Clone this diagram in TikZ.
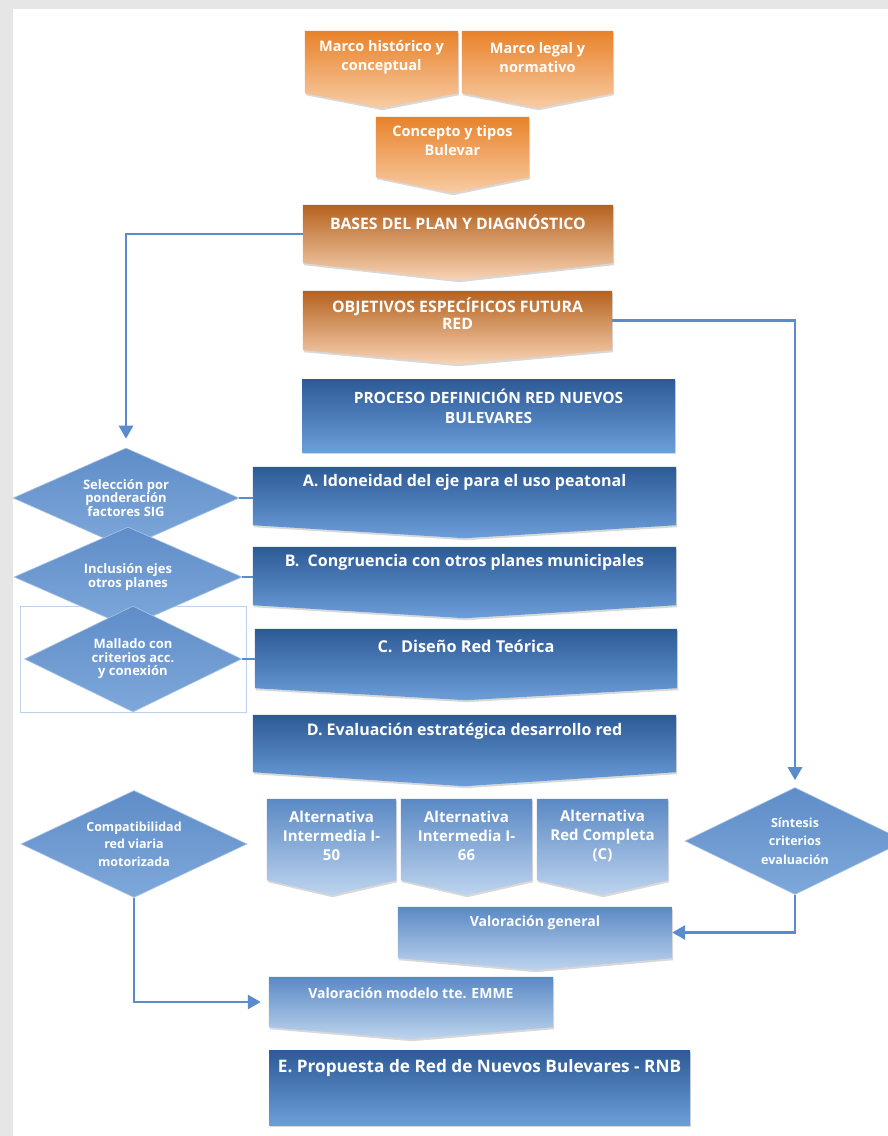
\documentclass[tikz,border=0pt]{standalone}
\usepackage{fontspec}
\setmainfont{Open Sans}
\usetikzlibrary{arrows.meta,shapes.geometric,shadows,positioning}

\definecolor{pagegray}{HTML}{E6E6E6}
\definecolor{orangetop}{HTML}{E8822A}
\definecolor{orangebot}{HTML}{F8CCA4}
\definecolor{rusttop}{HTML}{B5621F}
\definecolor{rustbot}{HTML}{F8D3B4}
\definecolor{bluetop}{HTML}{2C5A96}
\definecolor{bluebot}{HTML}{6C9ED9}
\definecolor{paletop}{HTML}{5A89C4}
\definecolor{palebot}{HTML}{BED4EE}
\definecolor{diatop}{HTML}{5F8DC8}
\definecolor{diabot}{HTML}{7EA8DA}
\definecolor{diaedge}{HTML}{A9C4E6}
\definecolor{linkblue}{HTML}{5A8CCD}
\definecolor{framecol}{HTML}{BCD2EA}

\tikzset{
  body/.style 2 args={inner sep=0pt, minimum width=#1, minimum height=#2},
  shadowed/.style={drop shadow={shadow xshift=1pt, shadow yshift=-2pt, opacity=0.25, fill=black!60}},
  orangebox/.style={top color=orangetop, bottom color=orangebot, shadowed},
  rustbox/.style={top color=rusttop, bottom color=rustbot, shadowed},
  bluebox/.style={top color=bluetop, bottom color=bluebot, shadowed},
  palebox/.style={top color=paletop, bottom color=palebot, shadowed},
  txt/.style 2 args={text=white, align=center, inner sep=0pt, font=\bfseries\fontsize{#1}{#2}\selectfont},
  decision/.style 2 args={diamond, shape aspect=2.2, top color=diatop, bottom color=diabot, draw=diaedge, line width=0.6pt, inner sep=0pt, text=white, align=center, font=\bfseries\fontsize{#1}{#2}\selectfont},
  link/.style={draw=linkblue, line width=2.8pt},
  arrowlink/.style={link, -{Triangle[width=14pt,length=13pt]}}
}

\begin{document}
\begin{tikzpicture}[x=1pt,y=-1pt]
\useasboundingbox (0,0) rectangle (888,1136);
\fill[pagegray] (0,0) rectangle (888,1136);
\fill[white] (13,9) rectangle (888,1136);

% orange chain
\node[body={153pt}{62pt}] (marcoh) at (381.5,62) {};
\shade[orangebox] (marcoh.north west) -- (marcoh.north east) -- (marcoh.south east) -- ([yshift=-15pt]marcoh.south) -- (marcoh.south west) -- cycle;
\node[txt={14.5}{19}] (marcoh-t) at ([yshift=-26.5pt]marcoh.north) {Marco histórico y\\conceptual};

\node[body={151pt}{62pt}] (marcol) at (537.5,62) {};
\shade[orangebox] (marcol.north west) -- (marcol.north east) -- (marcol.south east) -- ([yshift=-15pt]marcol.south) -- (marcol.south west) -- cycle;
\node[txt={14.5}{19}] (marcol-t) at ([yshift=-26.5pt]marcol.north) {Marco legal y\\normativo};

\node[body={153pt}{60pt}] (concepto) at (452.5,147) {};
\shade[orangebox] (concepto.north west) -- (concepto.north east) -- (concepto.south east) -- ([yshift=-16pt]concepto.south) -- (concepto.south west) -- cycle;
\node[txt={14.5}{19}] (concepto-t) at ([yshift=-24pt]concepto.north) {Concepto y tipos\\Bulevar};

\node[body={310pt}{58pt}] (bases) at (458,234) {};
\shade[rustbox] (bases.north west) -- (bases.north east) -- (bases.south east) -- ([yshift=-17pt]bases.south) -- (bases.south west) -- cycle;
\node[txt={15.8}{17}] (bases-t) at ([yshift=-17pt]bases.north) {BASES DEL PLAN Y DIAGNÓSTICO};

\node[body={309pt}{59pt}] (obj) at (457.5,320.5) {};
\shade[rustbox] (obj.north west) -- (obj.north east) -- (obj.south east) -- ([yshift=-14pt]obj.south) -- (obj.south west) -- cycle;
\node[txt={15.8}{17}] (obj-t) at ([yshift=-22.5pt]obj.north) {OBJETIVOS ESPECÍFICOS FUTURA\\RED};

% blue chain
\node[body={373pt}{73pt}, bluebox] (proceso) at (488.5,415.5) {};
\node[txt={15.5}{20}] (proceso-t) at ([yshift=-28pt]proceso.north) {PROCESO DEFINICIÓN RED NUEVOS\\BULEVARES};

\node[body={423pt}{58pt}] (boxA) at (464.5,496) {};
\shade[bluebox] (boxA.north west) -- (boxA.north east) -- (boxA.south east) -- ([yshift=-13pt]boxA.south) -- (boxA.south west) -- cycle;
\node[txt={16}{18}] (boxA-t) at ([yshift=-16pt]boxA.north) {A. Idoneidad del eje para el uso peatonal};

\node[body={423pt}{58pt}] (boxB) at (464.5,576) {};
\shade[bluebox] (boxB.north west) -- (boxB.north east) -- (boxB.south east) -- ([yshift=-13pt]boxB.south) -- (boxB.south west) -- cycle;
\node[txt={16}{18}] (boxB-t) at ([yshift=-16pt]boxB.north) {B.\ \ Congruencia con otros planes municipales};

\node[body={422pt}{59pt}] (boxC) at (466,658.5) {};
\shade[bluebox] (boxC.north west) -- (boxC.north east) -- (boxC.south east) -- ([yshift=-12pt]boxC.south) -- (boxC.south west) -- cycle;
\node[txt={16.3}{18}] (boxC-t) at ([yshift=-18pt]boxC.north) {C.\ \ Diseño Red Teórica};

\node[body={423pt}{57pt}] (boxD) at (464.5,743.5) {};
\shade[bluebox] (boxD.north west) -- (boxD.north east) -- (boxD.south east) -- ([yshift=-14pt]boxD.south) -- (boxD.south west) -- cycle;
\node[txt={16}{18}] (boxD-t) at ([yshift=-16pt]boxD.north) {D. Evaluación estratégica desarrollo red};

% alternatives
\node[body={129pt}{81pt}] (alt1) at (331.5,839.5) {};
\shade[palebox] (alt1.north west) -- (alt1.north east) -- (alt1.south east) -- ([yshift=-15pt]alt1.south) -- (alt1.south west) -- cycle;
\node[txt={15}{19}] (alt1-t) at ([yshift=-37pt]alt1.north) {Alternativa\\Intermedia I-\\50};

\node[body={131pt}{81pt}] (alt2) at (466.5,839.5) {};
\shade[palebox] (alt2.north west) -- (alt2.north east) -- (alt2.south east) -- ([yshift=-15pt]alt2.south) -- (alt2.south west) -- cycle;
\node[txt={15}{19}] (alt2-t) at ([yshift=-37pt]alt2.north) {Alternativa\\Intermedia I-\\66};

\node[body={131pt}{81pt}] (alt3) at (602.5,839.5) {};
\shade[palebox] (alt3.north west) -- (alt3.north east) -- (alt3.south east) -- ([yshift=-15pt]alt3.south) -- (alt3.south west) -- cycle;
\node[txt={15}{19}] (alt3-t) at ([yshift=-37pt]alt3.north) {Alternativa\\Red Completa\\(C)};

\node[body={274pt}{51pt}] (valgen) at (535,932.5) {};
\shade[palebox] (valgen.north west) -- (valgen.north east) -- (valgen.south east) -- ([yshift=-12pt]valgen.south) -- (valgen.south west) -- cycle;
\node[txt={14}{18}] (valgen-t) at ([yshift=-16pt]valgen.north) {Valoración general};

\node[body={284pt}{50pt}] (valmod) at (411,1002) {};
\shade[palebox] (valmod.north west) -- (valmod.north east) -- (valmod.south east) -- ([yshift=-12pt]valmod.south) -- (valmod.south west) -- cycle;
\node[txt={14}{18}] (valmod-t) at ([yshift=-16pt]valmod.north) {Valoración modelo tte. EMME};

\node[body={421pt}{75pt}, bluebox] (boxE) at (479.5,1087.5) {};
\node[txt={17.2}{20}] (boxE-t) at ([yshift=-18pt]boxE.north) {E. Propuesta de Red de Nuevos Bulevares - RNB};

% decisions on the left and right
\draw[framecol, line width=0.8pt] (20,606) rectangle (246,712);
\node[decision={13}{13.5}, minimum width=226pt, minimum height=100pt] (sel) at (126,498) {Selección por\\ponderación\\factores SIG};
\node[decision={13}{13.5}, minimum width=228pt, minimum height=100pt] (incl) at (128,577) {Inclusión ejes\\otros planes};
\node[decision={13}{13.5}, minimum width=217pt, minimum height=106pt] (malla) at (133,659) {Mallado con\\criterios acc.\\y conexión};
\node[decision={12.5}{17.5}, minimum width=226pt, minimum height=107pt] (compat) at (134,844) {Compatibilidad\\red viaria\\motorizada};
\node[decision={12.5}{18.5}, minimum width=220pt, minimum height=107pt] (sint) at (795,841) {Síntesis\\criterios\\evaluación};

% connectors
\draw[link] (sel.east) -- (sel.east -| boxA.west);
\draw[link] (incl.east) -- (incl.east -| boxB.west);
\draw[link] (malla.east) -- (malla.east -| boxC.west);
\draw[arrowlink, shorten >=9pt] (bases.west) -| (sel.north);
\draw[arrowlink, shorten >=7pt] (obj.east) -| (sint.north);
\draw[arrowlink] (sint.south) |- (valgen.east);
\draw[arrowlink, shorten >=8pt] (compat.south) |- (valmod.west);
\end{tikzpicture}
\end{document}
